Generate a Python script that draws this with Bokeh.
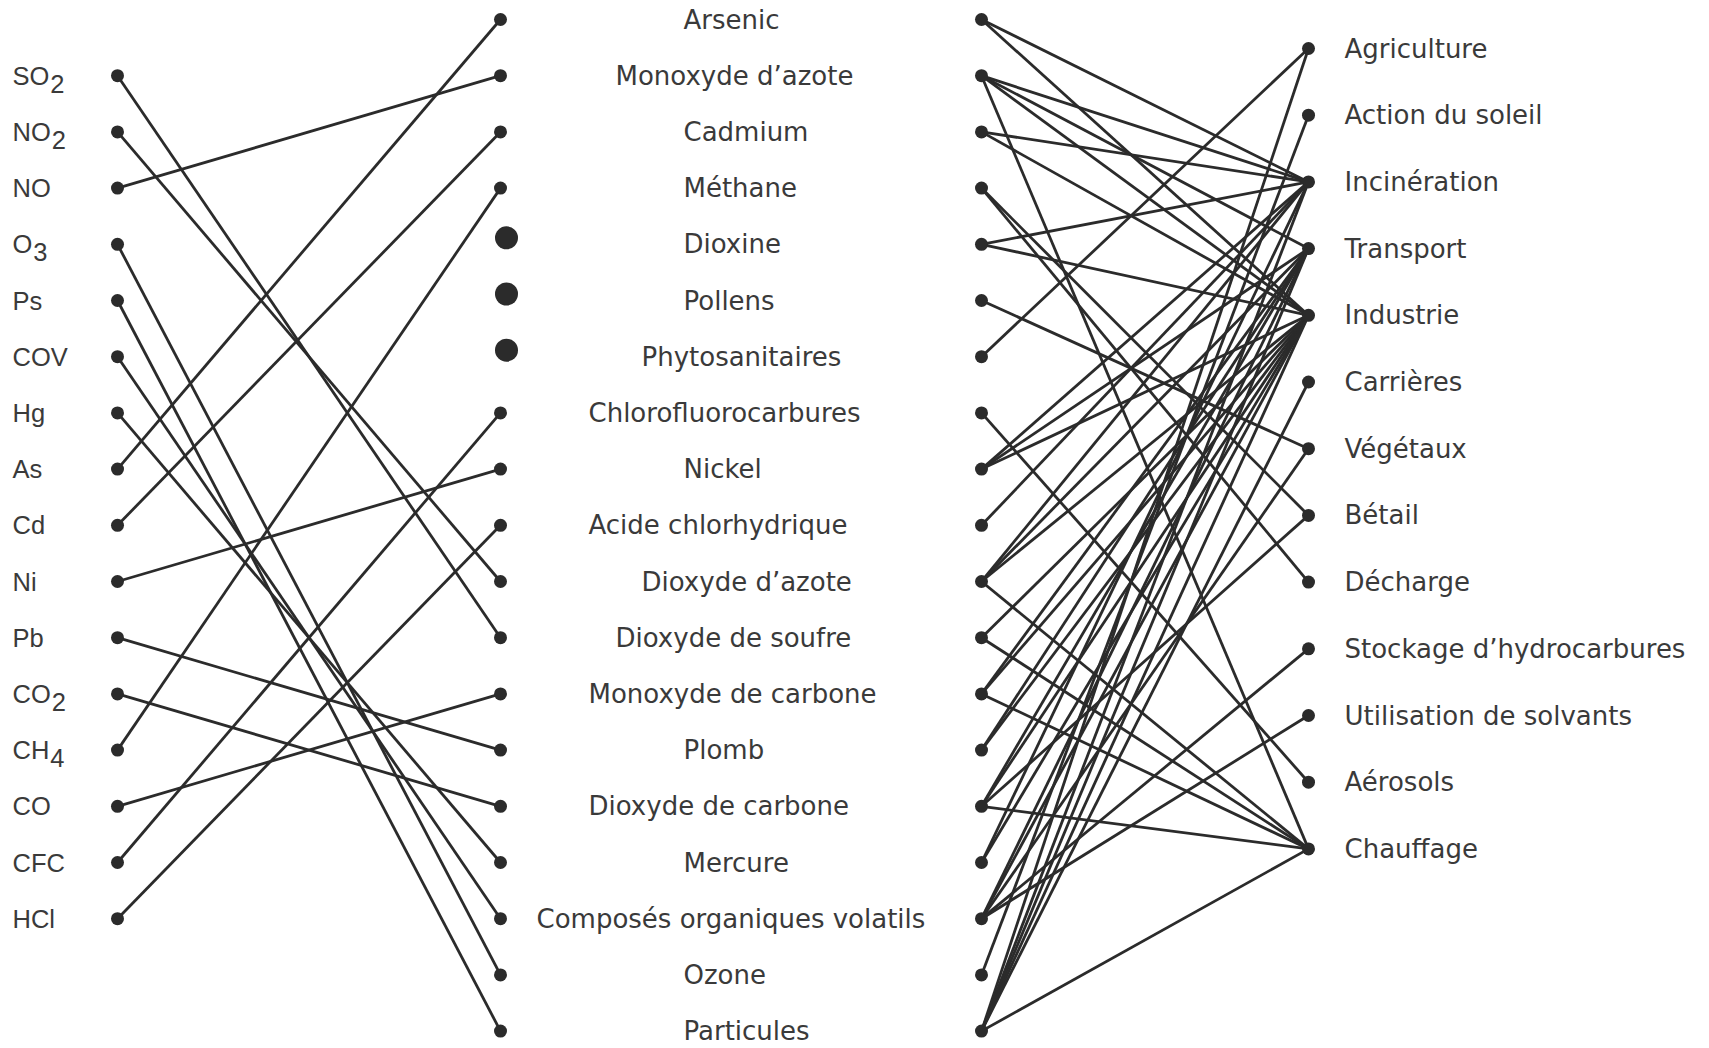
from bokeh.plotting import figure
from bokeh.models import Range1d
from bokeh.core.properties import value
from bokeh.embed import file_html
from bokeh.resources import INLINE

# ---------------- data ----------------
pollutants = ["Arsenic", "Monoxyde d’azote", "Cadmium", "Méthane", "Dioxine",
              "Pollens", "Phytosanitaires", "Chlorofluorocarbures", "Nickel",
              "Acide chlorhydrique", "Dioxyde d’azote", "Dioxyde de soufre",
              "Monoxyde de carbone", "Plomb", "Dioxyde de carbone", "Mercure",
              "Composés organiques volatils", "Ozone", "Particules"]

formula_base = ["SO", "NO", "NO", "O", "Ps", "COV", "Hg", "As", "Cd", "Ni",
                "Pb", "CO", "CH", "CO", "CFC", "HCl"]
formula_sub = ["2", "2", "", "3", "", "", "", "", "", "", "", "2", "4", "", "", ""]
formula_target = ["Dioxyde de soufre", "Dioxyde d’azote", "Monoxyde d’azote",
                  "Ozone", "Particules", "Composés organiques volatils", "Mercure",
                  "Arsenic", "Cadmium", "Nickel", "Plomb", "Dioxyde de carbone",
                  "Méthane", "Monoxyde de carbone", "Chlorofluorocarbures",
                  "Acide chlorhydrique"]

no_formula = ["Dioxine", "Pollens", "Phytosanitaires"]

sources = ["Agriculture", "Action du soleil", "Incinération", "Transport",
           "Industrie", "Carrières", "Végétaux", "Bétail", "Décharge",
           "Stockage d’hydrocarbures", "Utilisation de solvants", "Aérosols",
           "Chauffage"]

links = {
    "Arsenic": ["Incinération", "Industrie"],
    "Monoxyde d’azote": ["Incinération", "Transport", "Industrie", "Chauffage"],
    "Cadmium": ["Incinération", "Industrie"],
    "Méthane": ["Bétail", "Décharge"],
    "Dioxine": ["Incinération", "Industrie"],
    "Pollens": ["Végétaux"],
    "Phytosanitaires": ["Agriculture"],
    "Chlorofluorocarbures": ["Aérosols"],
    "Nickel": ["Incinération", "Transport", "Industrie"],
    "Acide chlorhydrique": ["Incinération"],
    "Dioxyde d’azote": ["Incinération", "Transport", "Industrie", "Chauffage"],
    "Dioxyde de soufre": ["Industrie", "Chauffage"],
    "Monoxyde de carbone": ["Transport", "Industrie", "Chauffage"],
    "Plomb": ["Transport", "Industrie"],
    "Dioxyde de carbone": ["Transport", "Industrie", "Bétail", "Chauffage"],
    "Mercure": ["Incinération", "Industrie"],
    "Composés organiques volatils": ["Transport", "Industrie", "Végétaux",
                                     "Stockage d’hydrocarbures",
                                     "Utilisation de solvants"],
    "Ozone": ["Action du soleil"],
    "Particules": ["Agriculture", "Incinération", "Transport", "Industrie",
                   "Carrières", "Chauffage"],
}

# ---------------- layout (screen pixels) ----------------
W, H = 1700, 1046
ROW0, ROW_STEP = 19.0, 56.2
SRC0, SRC_STEP = 48.0, 66.7
X_LEFT_TXT, X_LEFT_DOT = 12, 117
X_MID_DOT, X_BIG_DOT = 500, 506
X_RIGHT_DOT, X_SRC_DOT, X_SRC_TXT = 981, 1308, 1344
# left edge of each middle label (the original uses a few fixed starts)
mid_label_start = {0: 683, 1: 615, 2: 641, 3: 588, 4: 536}
mid_label_slot = [0, 1, 0, 0, 0, 0, 2, 3, 0, 3, 2, 1, 3, 0, 3, 0, 4, 0, 0]
TXT_DY = 0.0      # baseline offset of labels relative to their dot
SUB_DY = 8.0      # subscript drop

INK = "#2b2b2b"
TXT = "#3a3a3a"
LW = 2.8

row_y = {name: ROW0 + ROW_STEP * i for i, name in enumerate(pollutants)}
src_y = {name: SRC0 + SRC_STEP * j for j, name in enumerate(sources)}

p = figure(width=W, height=H, output_backend="svg", toolbar_location=None,
           x_range=Range1d(0, W), y_range=Range1d(H, 0),
           x_axis_type=None, y_axis_type=None, min_border=0,
           outline_line_color=None, background_fill_color="white",
           border_fill_color="white")
p.grid.visible = False

# ---- left links ----
lx0, ly0, lx1, ly1 = [], [], [], []
for k, tgt in enumerate(formula_target):
    lx0.append(X_LEFT_DOT)
    ly0.append(ROW0 + ROW_STEP * (k + 1))
    lx1.append(X_MID_DOT)
    ly1.append(row_y[tgt])
p.segment(x0=lx0, y0=ly0, x1=lx1, y1=ly1, line_color=INK, line_width=LW)

# ---- right links ----
rx0, ry0, rx1, ry1 = [], [], [], []
for name in pollutants:
    for s in links[name]:
        rx0.append(X_RIGHT_DOT)
        ry0.append(row_y[name])
        rx1.append(X_SRC_DOT)
        ry1.append(src_y[s])
p.segment(x0=rx0, y0=ry0, x1=rx1, y1=ry1, line_color=INK, line_width=LW)

# ---- dots ----
p.circle(x=[X_LEFT_DOT] * len(formula_base),
         y=[ROW0 + ROW_STEP * (k + 1) for k in range(len(formula_base))],
         radius=6.5, fill_color=INK, line_color=None)
small_mid = [n for n in pollutants if n not in no_formula]
p.circle(x=[X_MID_DOT] * len(small_mid), y=[row_y[n] for n in small_mid],
         radius=6.5, fill_color=INK, line_color=None)
p.circle(x=[X_BIG_DOT] * len(no_formula), y=[row_y[n] - 6.5 for n in no_formula],
         radius=11.5, fill_color=INK, line_color=None)
p.circle(x=[X_RIGHT_DOT] * len(pollutants), y=[row_y[n] for n in pollutants],
         radius=6.5, fill_color=INK, line_color=None)
p.circle(x=[X_SRC_DOT] * len(sources), y=[src_y[s] for s in sources],
         radius=6.5, fill_color=INK, line_color=None)

# ---- left formula labels ----
FS_L = 25.5
adv = {"S": 0.667, "O": 0.778, "N": 0.722, "C": 0.722, "H": 0.722}
base_y = [ROW0 + ROW_STEP * (k + 1) + TXT_DY for k in range(len(formula_base))]
p.text(x=[X_LEFT_TXT] * len(formula_base), y=base_y, text=formula_base,
       text_font=value("Liberation Sans"), text_font_size=f"{FS_L}px",
       text_color=TXT, text_baseline="alphabetic", text_align="left")
sx, sy, st = [], [], []
for k, (b, s) in enumerate(zip(formula_base, formula_sub)):
    if s:
        sx.append(X_LEFT_TXT + sum(adv.get(c, 0.7) for c in b) * FS_L + 1)
        sy.append(base_y[k] + SUB_DY)
        st.append(s)
p.text(x=sx, y=sy, text=st, text_font=value("Liberation Sans"),
       text_font_size=f"{FS_L}px", text_color=TXT,
       text_baseline="alphabetic", text_align="left")

# ---- middle labels ----
FS = 26
p.text(x=[mid_label_start[s] for s in mid_label_slot],
       y=[row_y[n] + TXT_DY for n in pollutants], text=pollutants,
       text_font=value("DejaVu Sans"), text_font_size=f"{FS}px",
       text_color=TXT, text_baseline="alphabetic", text_align="left")

# ---- right source labels ----
p.text(x=[X_SRC_TXT] * len(sources), y=[src_y[s] + TXT_DY for s in sources],
       text=sources, text_font=value("DejaVu Sans"), text_font_size=f"{FS}px",
       text_color=TXT, text_baseline="alphabetic", text_align="left")

open("out.html", "w").write(file_html(p, INLINE))
